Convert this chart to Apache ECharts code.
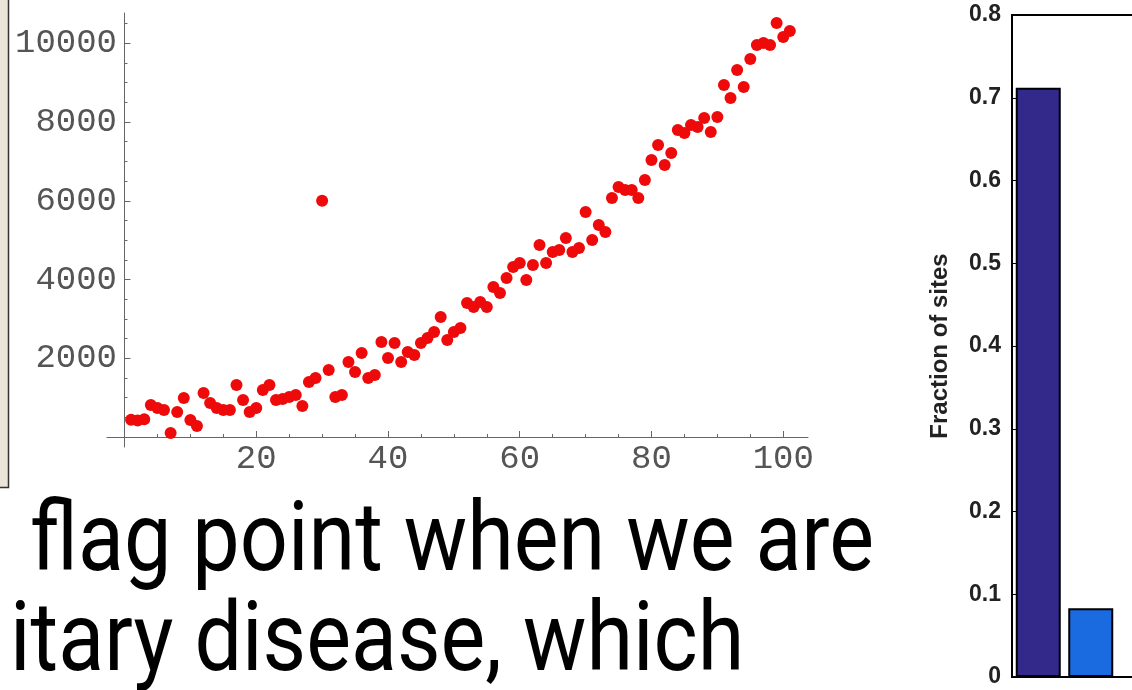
<!DOCTYPE html>
<html><head><meta charset="utf-8">
<script src="https://cdn.jsdelivr.net/npm/echarts@6/dist/echarts.min.js"></script>
<style>html,body{margin:0;padding:0;background:#fff}#c{width:1132px;height:690px}</style>
</head><body><div id="c"></div>
<script>
// ---- scatter (left panel) ----
const scatterX = [1,2,3,4,5,6,7,8,9,10,11,12,13,14,15,16,17,18,19,20,21,22,23,24,25,26,27,28,29,30,31,32,33,34,35,36,37,38,39,40,41,42,43,44,45,46,47,48,49,50,51,52,53,54,55,56,57,58,59,60,61,62,63,64,65,66,67,68,69,70,71,72,73,74,75,76,77,78,79,80,81,82,83,84,85,86,87,88,89,90,91,92,93,94,95,96,97,98,99,100,101];
const scatterY = [440,420,450,813,737,686,102,635,991,432,
  279,1118,864,737,686,686,1321,940,635,737,
  1194,1321,940,965,1016,1067,787,1397,1499,6000,
  1702,1016,1067,1905,1651,2134,1499,1575,2413,2007,
  2388,1905,2159,2083,2388,2515,2667,3048,2464,2667,
  2769,3404,3302,3429,3302,3810,3658,4039,4318,4420,
  3988,4369,4877,4420,4699,4750,5055,4699,4801,5715,
  5004,5385,5207,6071,6350,6274,6274,6071,6528,7036,
  7417,6909,7214,7798,7722,7925,7874,8103,7747,8128,
  8941,8611,9322,8890,9601,9957,10008,9957,10516,10160,10312];
const xTickLabels = [20,40,60,80,100];
const xMinorTicks = [5,10,15,25,30,35,45,50,55,65,70,75,85,90,95];
const yTickLabels = [2000,4000,6000,8000,10000];
const yMinorTicks = [500,1000,1500,2500,3000,3500,4500,5000,5500,6500,7000,7500,8500,9000,9500,10500];

// ---- bar chart (right panel) ----
const barPositions = [1,2];
const barValues = [0.712,0.083];
const barColors = ['#33298a','#1a6be0'];
const barAxisName = 'Fraction of sites';

// ---- slide text ----
const slideLines = ['flag point when we are','itary disease, which'];

const monoFont = {fontFamily:'Liberation Mono', fontSize:34, color:'#555', formatter:(v)=>String(v)};
const axGray = '#666';

const chart = echarts.init(document.getElementById('c'), null, {renderer:'canvas'});
chart.setOption({
  animation:false,
  backgroundColor:'#fff',
  grid:[
    {left:107, top:13, width:701, height:434, outerBoundsMode:'none', containLabel:false},
    {left:1012, top:15, width:400, height:662, outerBoundsMode:'none', containLabel:false,
     show:true, borderColor:'#000', borderWidth:2, backgroundColor:'#fff'}
  ],
  xAxis:[
    {type:'value', gridIndex:0, min:-2.657, max:103.76, position:'bottom',
     axisLine:{onZero:true, onZeroAxisIndex:0, lineStyle:{color:axGray, width:1}},
     splitLine:{show:false},
     axisTick:{inside:true, length:6, customValues:xTickLabels, lineStyle:{color:axGray}},
     axisLabel:{customValues:xTickLabels, margin:-5, ...monoFont}},
    {type:'value', gridIndex:0, min:-2.657, max:103.76, position:'bottom',
     axisLine:{show:false, onZero:true, onZeroAxisIndex:0},
     splitLine:{show:false},
     axisTick:{inside:true, length:3, customValues:xMinorTicks, lineStyle:{color:axGray}},
     axisLabel:{show:false}},
    {type:'value', gridIndex:1, min:0.5, max:0.5+400/52.5, position:'bottom',
     axisLine:{onZero:false, lineStyle:{color:'#000', width:2}},
     axisTick:{show:false}, axisLabel:{show:false}, splitLine:{show:false}}
  ],
  yAxis:[
    {type:'value', gridIndex:0, min:-254, max:10770, position:'left',
     axisLine:{onZero:true, onZeroAxisIndex:0, lineStyle:{color:axGray, width:1}},
     splitLine:{show:false},
     axisTick:{inside:true, length:6, customValues:yTickLabels, lineStyle:{color:axGray}},
     axisLabel:{customValues:yTickLabels, margin:-10, ...monoFont}},
    {type:'value', gridIndex:0, min:-254, max:10770, position:'left',
     axisLine:{show:false, onZero:true, onZeroAxisIndex:0},
     splitLine:{show:false},
     axisTick:{inside:true, length:3, customValues:yMinorTicks, lineStyle:{color:axGray}},
     axisLabel:{show:false}},
    {type:'value', gridIndex:1, min:0, max:0.8, interval:0.1, position:'left',
     name:barAxisName, nameLocation:'middle', nameGap:60,
     nameTextStyle:{fontFamily:'Liberation Sans', fontWeight:'bold', fontSize:24, color:'#222'},
     axisLine:{onZero:false, lineStyle:{color:'#000', width:2}},
     axisTick:{inside:true, length:5, lineStyle:{color:'#000'}},
     splitLine:{show:false},
     axisLabel:{margin:11, fontFamily:'Liberation Sans', fontWeight:'bold', fontSize:23, color:'#222'}}
  ],
  series:[
    {type:'scatter', xAxisIndex:0, yAxisIndex:0, symbolSize:12,
     itemStyle:{color:'#ee0a0a', opacity:1},
     data: scatterX.map((x,i)=>[x, scatterY[i]])},
    {type:'bar', xAxisIndex:2, yAxisIndex:2, barWidth:45,
     itemStyle:{borderColor:'#000', borderWidth:2},
     data: barPositions.map((x,i)=>({value:[x, barValues[i]], itemStyle:{color:barColors[i]}}))}
  ],
  graphic:[
    {type:'rect', shape:{x:0,y:0,width:8,height:487}, style:{fill:'#ebe5d9'}},
    {type:'polyline', shape:{points:[[8.5,0],[8.5,487.5],[0,487.5]]}, style:{stroke:'#333', lineWidth:1.5, fill:null}},
    {type:'text', x:30, y:546, scaleX:0.88, style:{text:slideLines[0], font:'400 96px Roboto', fill:'#000', verticalAlign:'middle'}},
    {type:'text', x:10, y:646, scaleX:0.88, style:{text:slideLines[1], font:'400 96px Roboto', fill:'#000', verticalAlign:'middle'}}
  ]
});
</script></body></html>
